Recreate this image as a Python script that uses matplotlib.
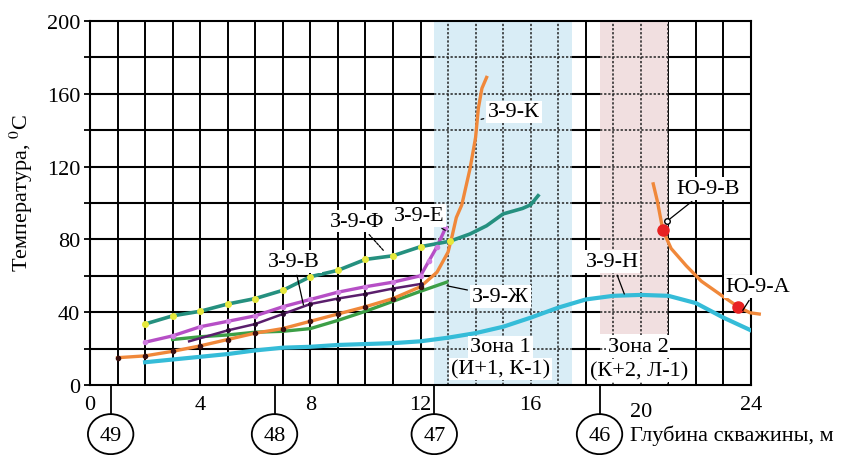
import matplotlib

matplotlib.use("Agg")
import matplotlib.pyplot as plt
from matplotlib.patches import Ellipse

plt.rcParams["font.family"] = ["Liberation Serif", "DejaVu Serif"]
plt.rcParams["mathtext.fontset"] = "stix"

FS = 16

# depth (m) / temperature (deg C)
k_x = [1, 2, 3, 4, 5, 6, 7, 8, 9, 10, 11, 12, 12.6, 13.0, 13.15, 13.3, 13.5, 13.8, 14.0, 14.1, 14.23, 14.4]
k_y = [15, 16, 18.5, 21.5, 25, 28.5, 31, 35, 39, 43, 47.5, 54, 62, 73, 82, 92, 99, 119, 136, 152, 163, 169]

f_x = [2, 3, 4, 5, 6, 7, 8, 9, 10, 11, 12, 13.07, 13.8, 14.4, 15, 15.7, 16, 16.27]
f_y = [33.5, 38, 40.5, 44.5, 47.5, 52, 59.5, 63, 69, 71, 76, 79, 83, 87.5, 94, 97, 99, 104]

e_x = [2, 3, 4, 5, 6, 7, 8, 9, 10, 11, 12, 12.3, 12.6, 12.9]
e_y = [23.5, 27, 32, 35, 38, 43, 47, 51, 54, 56.5, 60, 68, 76, 86]

v_x = [3.6, 5, 6, 7, 8, 9, 10, 11, 12]
v_y = [24, 30, 33.5, 39, 44.5, 47.5, 50, 53, 55.5]

zh_x = [3, 4, 5, 6, 7, 8, 9, 10, 11, 12, 12.95]
zh_y = [25, 26.5, 27.5, 29, 29.5, 31, 35.5, 40.5, 46, 51.5, 56.5]

n_x = [2, 3, 4, 5, 6, 7, 8, 9, 10, 11, 12, 13, 14, 15, 16, 17, 18, 19, 20, 21, 22, 23, 24]
n_y = [12.5, 14, 15.5, 17, 19, 20.5, 21, 22, 22.5, 23, 24, 26, 28.5, 32, 37, 42.5, 47, 49, 49.5, 49, 45, 37, 30]

yu_x = [20.45, 20.6, 20.8, 21.1, 21.65, 22.2, 23.0, 23.53, 23.96, 24.3]
yu_y = [110.5, 101, 85, 75, 65.5, 57, 48.5, 43, 39.7, 39]
yu_pts_x = [20.8, 23.53]
yu_pts_y = [85, 43]

wells = ["49", "48", "47", "46"]
well_x = [0.75, 6.7, 12.5, 18.5]

zones = [(12.5, 17.5, 0, 200, "#d9edf6"), (18.5, 21.0, 28, 200, "#f1dfe0")]

ORANGE = "#f0883a"
TEAL = "#25907f"
MAGENTA = "#b64fc6"
PURPLE = "#5a1e6c"
GREEN = "#3c9f46"
CYAN = "#35bcd8"

fig = plt.figure(figsize=(8.47, 4.56), dpi=100)
ax = fig.add_axes([90 / 847, 70 / 456, 661 / 847, 364 / 456])
ax.set_xlim(0, 24)
ax.set_ylim(0, 200)

# solid grid
ax.vlines(range(1, 24), 0, 200, color="black", lw=1.4, zorder=1)
ax.hlines(range(20, 200, 20), 0, 24, color="black", lw=1.5, zorder=1)

# zones with dotted grid inside
for x0, x1, y0, y1, c in zones:
    ax.fill_between([x0, x1], y0, y1, color=c, lw=0, zorder=1.5)
ax.fill_between([18.5, 21.0], 0, 28, color="white", lw=0, zorder=1.5)
dots = (0, (1.5, 1.2))
for x0, x1, _, _, _ in zones:
    xs = [x for x in range(1, 24) if x0 < x <= x1]
    ax.vlines(xs, 0, 200, color="#222222", lw=1.1, linestyles=dots, zorder=1.6)
    ax.hlines(range(20, 200, 20), x0, x1, color="#222222", lw=1.1, linestyles=dots, zorder=1.6)

for s in ax.spines.values():
    s.set_linewidth(1.5)

# data
ax.plot(n_x, n_y, color=CYAN, lw=3.0, zorder=3)
ax.plot(zh_x, zh_y, color=GREEN, lw=2.4, zorder=3)
ax.plot(k_x, k_y, color=ORANGE, lw=2.4, zorder=3.2)
ax.plot(k_x[:12], k_y[:12], ls="none", marker="o", ms=3, color="#3a1010", zorder=3.3)
ax.plot(v_x, v_y, color=PURPLE, lw=1.8, zorder=3.1)
ax.plot(v_x[1:], v_y[1:], ls="none", marker="o", ms=2.5, color="#2a0a30", zorder=3.3)
ax.plot(e_x, e_y, color=MAGENTA, lw=2.4, zorder=3.1)
ax.plot(e_x, e_y, ls="none", marker="o", ms=3, color="#d07ce0", zorder=3.3)
ax.plot(f_x, f_y, color=TEAL, lw=2.6, zorder=3.1)
ax.plot(f_x[:12], f_y[:12], ls="none", marker="o", ms=4, color="#e6e83c", zorder=3.3)
ax.plot(yu_x, yu_y, color=ORANGE, lw=2.4, zorder=3, clip_on=False)
ax.plot(yu_pts_x, yu_pts_y, ls="none", marker="o", ms=8, color="#e82222", zorder=3.4)

# curve labels
box = dict(boxstyle="square,pad=0.08", fc="white", ec="none")
labels = [
    ("З-9-К", (15.4, 150), (14.2, 146), "-"),
    ("З-9-Ф", (9.7, 90), (10.65, 74), (0, (2, 1))),
    ("З-9-Е", (11.95, 93), (12.9, 85), "-"),
    ("З-9-В", (7.4, 68), (7.75, 44), "-"),
    ("З-9-Ж", (14.9, 48.5), (12.96, 54.5), "-"),
    ("З-9-Н", (18.95, 68), (19.4, 50), "-"),
    ("Ю-9-В", (22.45, 108), (20.95, 90), "-"),
    ("Ю-9-А", (24.25, 54), (23.7, 41), "-"),
]
for txt, (tx, ty), (px, py), ls in labels:
    ax.annotate(txt, xy=(px, py), xytext=(tx, ty), fontsize=FS, ha="center", va="center",
                bbox=box, zorder=5, annotation_clip=False,
                arrowprops=dict(arrowstyle="-", lw=0.9, color="black", ls=ls, shrinkA=2, shrinkB=0))
ax.plot([20.95], [90], marker="o", ms=4, mfc="white", mec="black", mew=1, zorder=5)

# zone captions
for tx, ty, txt in [(14.9, 20.9, "Зона 1"), (14.9, 8.8, "(И+1, К-1)"),
                    (19.9, 21.3, "Зона 2"), (19.95, 7.8, "(К+2, Л-1)")]:
    ax.text(tx, ty, txt, fontsize=FS, ha="center", va="center", bbox=box, zorder=5)

# axes ticks
ax.set_yticks(range(0, 201, 40))
ax.set_yticks(range(20, 200, 40), minor=True)
ax.tick_params(axis="y", which="both", length=4, width=1.3, labelsize=FS, pad=3)
ax.set_xticks(range(0, 25, 4))
ax.set_xticks([], minor=True)
ax.tick_params(axis="x", length=0, labelsize=FS, pad=7)
ax.get_xticklabels()[5].set_y(-0.02)

ax.set_ylabel(r"Температура, $^0$C", fontsize=FS)
ax.yaxis.set_label_coords(-0.083, 0.53)
ax.text(19.6, -27.5, "Глубина скважины, м", fontsize=FS, ha="left", va="center", clip_on=False)

# well markers below the axis
for name, wx in zip(wells, well_x):
    ax.plot([wx, wx], [0, -16], color="black", lw=1.3, clip_on=False)
    ax.add_patch(Ellipse((wx, -27), 1.65, 22, fc="white", ec="black", lw=1.3, clip_on=False))
    ax.text(wx, -27.5, name, fontsize=FS, ha="center", va="center", clip_on=False)

fig.savefig("out.png", dpi=100)
